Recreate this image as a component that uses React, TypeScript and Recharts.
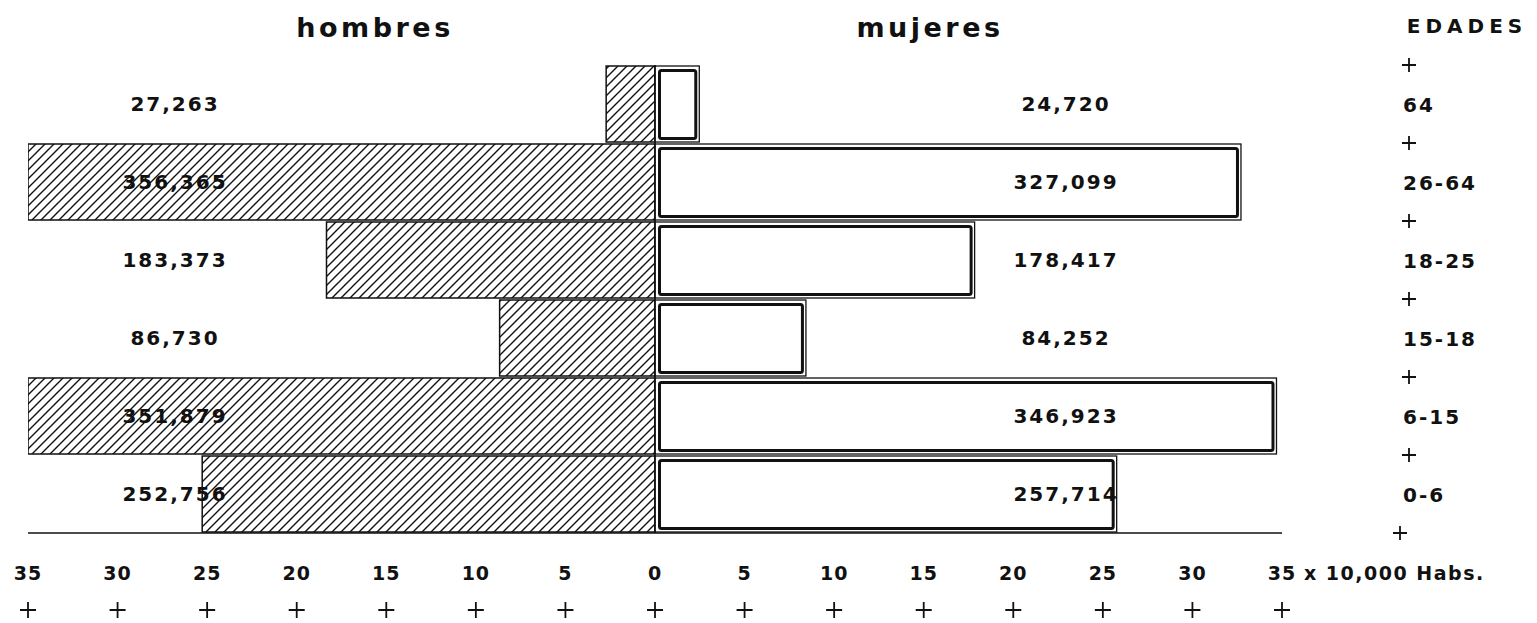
import { BarChart, Bar, XAxis, YAxis, ReferenceLine, LabelList, Customized } from 'recharts'

// grupos de edad, de arriba hacia abajo
const edades = ['64', '26-64', '18-25', '15-18', '6-15', '0-6']
const hombres = [27263, 356365, 183373, 86730, 351879, 252756]
const mujeres = [24720, 327099, 178417, 84252, 346923, 257714]
// escala en unidades de 10,000 habitantes
const escala = [-35, -30, -25, -20, -15, -10, -5, 0, 5, 10, 15, 20, 25, 30, 35]

const fmt = (n: number) => n.toLocaleString('en-US')

const data = edades.map((edad, i) => ({
  edad,
  hombres: -hombres[i] / 10000,
  mujeres: mujeres[i] / 10000,
  hLabel: fmt(hombres[i]),
  mLabel: fmt(mujeres[i]),
}))

const INK = '#111'
const FONT = '"DejaVu Sans", sans-serif'
const BAND = (533 - 65) / edades.length

function Plus({ cx, cy, s = 8 }: { cx: number; cy: number; s?: number }) {
  return (
    <path d={`M${cx - s},${cy} h${2 * s} M${cx},${cy - s} v${2 * s}`} stroke={INK} strokeWidth={1.8} />
  )
}

function HatchBar(p: any) {
  const x0 = Math.min(p.x, p.x + p.width)
  const w = Math.abs(p.width)
  if (!w) return null
  return <rect x={x0} y={p.y} width={w} height={p.height} fill="url(#hatch)" stroke={INK} strokeWidth={1.5} />
}

function OpenBar(p: any) {
  const x0 = Math.min(p.x, p.x + p.width)
  const w = Math.abs(p.width)
  if (!w) return null
  return (
    <g>
      <rect x={x0} y={p.y} width={w} height={p.height} fill="#fff" stroke={INK} strokeWidth={1.3} />
      <rect x={x0 + 4.5} y={p.y + 4.5} width={w - 8} height={p.height - 8} rx={2} fill="none" stroke={INK} strokeWidth={3} />
    </g>
  )
}

const rowLabel = (x: number) => (p: any) => {
  const vb = p.viewBox ?? p
  return (
    <text x={x} y={vb.y + vb.height / 2 + 7} textAnchor="middle" fontFamily={FONT} fontWeight="bold"
      fontSize={20} letterSpacing={2} fill={INK}>
      {p.value}
    </text>
  )
}

function XTick(p: any) {
  const v = p.payload.value
  return (
    <g>
      <text x={p.x} y={580} textAnchor="middle" fontFamily={FONT} fontWeight="bold" fontSize={19}
        letterSpacing={1} fill={INK}>
        {Math.abs(v)}
      </text>
      <Plus cx={p.x} cy={610} s={8} />
    </g>
  )
}

function EdadTick(p: any) {
  const { y, index, payload } = p
  return (
    <g>
      <Plus cx={1409} cy={y - BAND / 2} s={7} />
      <text x={1403} y={y + 8} fontFamily={FONT} fontWeight="bold" fontSize={20} letterSpacing={2} fill={INK}>
        {payload.value}
      </text>
      {index === edades.length - 1 && <Plus cx={1400} cy={y + BAND / 2} s={7} />}
    </g>
  )
}

function Extras() {
  return (
    <g>
      <defs>
        <pattern id="hatch" patternUnits="userSpaceOnUse" width={9} height={9}>
          <rect width={9} height={9} fill="#fff" />
          <path d="M-2,2 l4,-4 M0,9 l9,-9 M7,11 l4,-4" stroke={INK} strokeWidth={1.4} />
        </pattern>
      </defs>
      <text x={375} y={37} textAnchor="middle" fontFamily={FONT} fontWeight="bold" fontSize={27}
        letterSpacing={3.5} fill={INK}>
        hombres
      </text>
      <text x={930} y={37} textAnchor="middle" fontFamily={FONT} fontWeight="bold" fontSize={27}
        letterSpacing={3.5} fill={INK}>
        mujeres
      </text>
      <text x={1467} y={33} textAnchor="middle" fontFamily={FONT} fontWeight="bold" fontSize={20}
        letterSpacing={5} fill={INK}>
        EDADES
      </text>
      <text x={1304} y={580} fontFamily={FONT} fontWeight="bold" fontSize={19} letterSpacing={1.5} fill={INK}>
        x 10,000 Habs.
      </text>
    </g>
  )
}

export default function App() {
  return (
    <div style={{ position: 'absolute', left: 0, top: 0, width: 1537, height: 623, background: '#fff' }}>
      <BarChart
        layout="vertical"
        width={1537}
        height={623}
        data={data}
        margin={{ top: 65, right: 0, bottom: 0, left: 28 }}
        barCategoryGap={1}
        stackOffset="sign"
      >
        <Customized component={Extras} />
        <XAxis
          type="number"
          domain={[-35, 35]}
          ticks={escala}
          interval={0}
          allowDataOverflow
          height={90}
          tickLine={false}
          axisLine={{ stroke: INK, strokeWidth: 1.5 }}
          tick={<XTick />}
        />
        <YAxis
          type="category"
          dataKey="edad"
          orientation="right"
          width={255}
          interval={0}
          axisLine={false}
          tickLine={false}
          tick={<EdadTick />}
        />
        <Bar dataKey="hombres" stackId="p" shape={<HatchBar />} isAnimationActive={false}>
          <LabelList dataKey="hLabel" content={rowLabel(175)} />
        </Bar>
        <Bar dataKey="mujeres" stackId="p" shape={<OpenBar />} isAnimationActive={false}>
          <LabelList dataKey="mLabel" content={rowLabel(1066)} />
        </Bar>
        <ReferenceLine x={0} stroke={INK} strokeWidth={1.5} />
      </BarChart>
    </div>
  )
}
